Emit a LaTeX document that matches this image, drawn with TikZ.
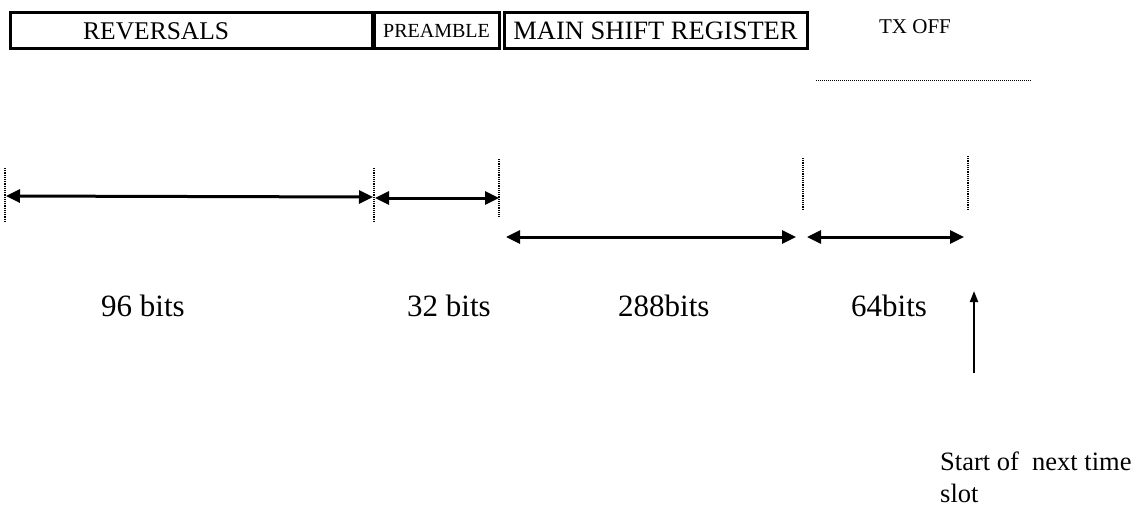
\documentclass[tikz,border=0pt]{standalone}
\usepackage{fontspec}
\setmainfont{Liberation Serif}
\usetikzlibrary{arrows.meta}
\begin{document}
\begin{tikzpicture}[x=1pt,y=-1pt,
  fieldbox/.style={draw,line width=3pt,inner sep=0pt,minimum height=36pt},
  span/.style={line width=3pt,{Triangle[length=14pt,width=13pt]}-{Triangle[length=14pt,width=13pt]}},
  tick/.style={line width=1.2pt,densely dotted},
  lbl/.style={font=\fontsize{31}{36}\selectfont,anchor=base west,inner sep=0pt},
  note/.style={font=\fontsize{26.5}{32}\selectfont,align=left,anchor=base west,inner sep=0pt}]
\useasboundingbox (0,0) rectangle (1145,512);
% boxes
\node[fieldbox,minimum width=362pt] (rev) at (191,30.5) {};
\node[anchor=west,inner sep=0pt] (revt) at (83,31) {\fontsize{25.5}{30}\selectfont REVERSALS};
\node[fieldbox,minimum width=125pt] (pre) at (436.5,30.5) {\fontsize{20}{24}\selectfont PREAMBLE};
\node[fieldbox,minimum width=303pt] (msr) at (655.5,30.5) {\fontsize{26.5}{30}\selectfont MAIN SHIFT REGISTER};
\node[inner sep=0pt] (tx) at (915,27) {\fontsize{21}{24}\selectfont TX OFF};
\coordinate (txa) at (816,80);
\coordinate (txb) at (1031,80);
\draw[line width=1pt,densely dotted] (txa) -- (txb);
% dotted vertical ticks
\coordinate (t1a) at (5,168);   \coordinate (t1b) at (5,222);
\coordinate (t2a) at (374,168); \coordinate (t2b) at (374,222);
\coordinate (t3a) at (499,159); \coordinate (t3b) at (499,217);
\coordinate (t4a) at (803,158); \coordinate (t4b) at (803,210);
\coordinate (t5a) at (968,156); \coordinate (t5b) at (968,211);
\draw[tick] (t1a) -- (t1b);
\draw[tick] (t2a) -- (t2b);
\draw[tick] (t3a) -- (t3b);
\draw[tick] (t4a) -- (t4b);
\draw[tick] (t5a) -- (t5b);
% span arrows
\coordinate (a1) at (6,196);   \coordinate (b1) at (373,197);
\coordinate (a2) at (375,198); \coordinate (b2) at (499,198);
\coordinate (a3) at (506,237); \coordinate (b3) at (796,237);
\coordinate (a4) at (807,237); \coordinate (b4) at (964,237);
\draw[span] (a1) -- (b1);
\draw[span] (a2) -- (b2);
\draw[span] (a3) -- (b3);
\draw[span] (a4) -- (b4);
% labels
\node[lbl] (l96) at (101,316) {96 bits};
\node[lbl] (l32) at (407,316) {32 bits};
\node[lbl] (l288) at (618,316) {288bits};
\node[lbl] (l64) at (851,316) {64bits};
% next slot arrow
\coordinate (ua) at (974,373);
\coordinate (ub) at (974,291);
\draw[line width=2pt,-{Triangle[length=11pt,width=8pt]}] (ua) -- (ub);
\node[note] (ns) at (940,502) {Start of \ next time\\slot};
\end{tikzpicture}
\end{document}
